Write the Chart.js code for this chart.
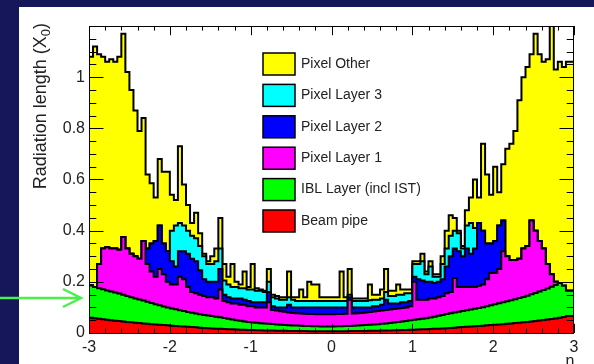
<!DOCTYPE html>
<html>
<head>
<meta charset="utf-8">
<script src="https://cdn.jsdelivr.net/npm/chart.js@4.4.1/dist/chart.umd.min.js"></script>
<style>
html, body { margin: 0; padding: 0; background: #16165a; }
#c { position: absolute; left: 0; top: 0; }
</style>
</head>
<body>
<canvas id="c" width="594" height="364"></canvas>
<script>
// eta bins: 120 bins of 0.05 from -3 to 3; each array holds the upper edge of that layer (stacked)
var etaMin = -3;
var binWidth = 0.05;

var beamPipe = [
  0.062,0.060,0.058,0.056,0.054,0.052,0.050,0.048,0.047,0.045,
  0.043,0.042,0.040,0.039,0.037,0.036,0.034,0.033,0.032,0.031,
  0.030,0.028,0.027,0.026,0.025,0.024,0.023,0.022,0.021,0.020,
  0.019,0.018,0.017,0.017,0.016,0.015,0.015,0.014,0.013,0.013,
  0.012,0.012,0.011,0.011,0.010,0.010,0.010,0.009,0.009,0.009,
  0.008,0.008,0.008,0.008,0.008,0.007,0.007,0.007,0.007,0.007,
  0.007,0.007,0.007,0.007,0.007,0.008,0.008,0.008,0.008,0.008,
  0.009,0.009,0.009,0.010,0.010,0.010,0.011,0.011,0.012,0.012,
  0.013,0.013,0.014,0.015,0.015,0.016,0.017,0.017,0.018,0.019,
  0.020,0.021,0.022,0.023,0.024,0.025,0.026,0.027,0.028,0.030,
  0.031,0.032,0.033,0.034,0.036,0.037,0.039,0.040,0.042,0.043,
  0.045,0.047,0.049,0.051,0.053,0.055,0.057,0.060,0.063,0.066
];
var iblLayer = [
  0.183,0.186,0.180,0.175,0.171,0.166,0.162,0.158,0.154,0.150,
  0.145,0.140,0.135,0.131,0.127,0.122,0.117,0.112,0.108,0.104,
  0.100,0.096,0.093,0.089,0.086,0.082,0.079,0.076,0.073,0.070,
  0.068,0.066,0.064,0.062,0.059,0.056,0.053,0.050,0.048,0.045,
  0.043,0.041,0.040,0.038,0.037,0.036,0.035,0.033,0.032,0.031,
  0.030,0.029,0.029,0.028,0.027,0.027,0.026,0.026,0.025,0.025,
  0.025,0.025,0.026,0.026,0.027,0.027,0.028,0.029,0.030,0.031,
  0.032,0.033,0.034,0.036,0.037,0.039,0.041,0.043,0.045,0.047,
  0.050,0.052,0.054,0.056,0.058,0.061,0.064,0.067,0.070,0.074,
  0.077,0.080,0.083,0.086,0.089,0.092,0.095,0.098,0.101,0.105,
  0.108,0.112,0.116,0.120,0.124,0.128,0.132,0.137,0.141,0.146,
  0.151,0.156,0.162,0.168,0.174,0.181,0.188,0.195,0.185,0.165
];
var pixelLayer1 = [
  0.183,0.186,0.180,0.270,0.330,0.335,0.330,0.330,0.325,0.375,
  0.330,0.310,0.300,0.290,0.360,0.270,0.240,0.220,0.250,0.230,
  0.200,0.190,0.190,0.220,0.210,0.180,0.160,0.155,0.150,0.145,
  0.140,0.140,0.135,0.170,0.125,0.120,0.115,0.115,0.110,0.110,
  0.105,0.105,0.100,0.100,0.100,0.120,0.090,0.088,0.085,0.083,
  0.080,0.078,0.077,0.076,0.075,0.074,0.074,0.073,0.073,0.073,
  0.073,0.073,0.074,0.074,0.075,0.130,0.076,0.077,0.078,0.080,
  0.082,0.084,0.086,0.088,0.090,0.092,0.094,0.096,0.098,0.100,
  0.105,0.200,0.130,0.130,0.130,0.135,0.135,0.140,0.145,0.155,
  0.160,0.215,0.180,0.180,0.180,0.180,0.180,0.185,0.190,0.210,
  0.235,0.235,0.250,0.320,0.300,0.285,0.285,0.290,0.330,0.340,
  0.440,0.400,0.360,0.330,0.270,0.230,0.200,0.195,0.185,0.165
];
var pixelLayer2 = [
  0.183,0.186,0.180,0.270,0.330,0.335,0.330,0.330,0.325,0.375,
  0.330,0.310,0.300,0.290,0.360,0.330,0.350,0.360,0.420,0.350,
  0.320,0.280,0.260,0.320,0.320,0.310,0.290,0.280,0.245,0.210,
  0.200,0.200,0.200,0.250,0.150,0.140,0.135,0.135,0.135,0.130,
  0.125,0.120,0.120,0.120,0.120,0.160,0.105,0.100,0.100,0.100,
  0.110,0.100,0.100,0.100,0.100,0.100,0.100,0.100,0.100,0.100,
  0.100,0.100,0.100,0.100,0.100,0.140,0.100,0.100,0.100,0.100,
  0.100,0.105,0.105,0.110,0.130,0.115,0.115,0.115,0.120,0.120,
  0.125,0.220,0.210,0.205,0.200,0.200,0.195,0.200,0.210,0.260,
  0.300,0.330,0.320,0.300,0.330,0.310,0.330,0.430,0.400,0.350,
  0.350,0.360,0.420,0.440,0.300,0.285,0.285,0.290,0.330,0.340,
  0.440,0.400,0.360,0.330,0.270,0.230,0.200,0.195,0.185,0.165
];
var pixelLayer3 = [
  0.183,0.186,0.180,0.270,0.330,0.335,0.330,0.330,0.325,0.375,
  0.330,0.310,0.300,0.290,0.360,0.330,0.350,0.360,0.420,0.350,
  0.320,0.400,0.420,0.430,0.420,0.400,0.380,0.370,0.340,0.300,
  0.270,0.270,0.280,0.330,0.205,0.190,0.180,0.180,0.175,0.175,
  0.170,0.170,0.165,0.165,0.160,0.200,0.140,0.135,0.130,0.130,
  0.140,0.130,0.125,0.125,0.125,0.125,0.125,0.125,0.125,0.125,
  0.125,0.125,0.125,0.125,0.125,0.150,0.125,0.125,0.125,0.125,
  0.128,0.130,0.130,0.135,0.160,0.145,0.145,0.150,0.150,0.155,
  0.155,0.270,0.270,0.280,0.230,0.260,0.220,0.220,0.270,0.330,
  0.380,0.400,0.390,0.330,0.420,0.430,0.410,0.430,0.400,0.350,
  0.350,0.360,0.420,0.440,0.300,0.285,0.285,0.290,0.330,0.340,
  0.440,0.400,0.360,0.330,0.270,0.230,0.200,0.195,0.185,0.165
];
var pixelOther = [
  1.06,1.08,1.12,1.09,1.08,1.06,1.07,1.06,1.08,1.17,
  1.02,0.95,0.87,0.79,0.84,0.62,0.585,0.53,0.68,0.63,
  0.63,0.54,0.52,0.73,0.58,0.50,0.43,0.47,0.39,0.31,
  0.28,0.30,0.33,0.45,0.27,0.22,0.27,0.20,0.19,0.24,
  0.18,0.27,0.175,0.17,0.165,0.25,0.15,0.145,0.14,0.14,
  0.24,0.14,0.14,0.17,0.14,0.20,0.19,0.19,0.14,0.14,
  0.14,0.14,0.14,0.24,0.14,0.25,0.135,0.135,0.135,0.135,
  0.19,0.15,0.15,0.17,0.25,0.165,0.165,0.19,0.17,0.17,
  0.17,0.28,0.28,0.31,0.24,0.28,0.23,0.23,0.30,0.40,
  0.46,0.45,0.40,0.34,0.48,0.53,0.60,0.53,0.74,0.62,
  0.54,0.65,0.55,0.66,0.72,0.74,0.79,0.91,1.00,1.04,
  1.09,1.17,1.09,1.06,1.07,1.21,1.03,1.06,1.04,1.06
];

var legendNames = ['Pixel Other', 'Pixel Layer 3', 'Pixel Layer 2', 'Pixel Layer 1', 'IBL Layer (incl IST)', 'Beam pipe'];
var legendColors = ['#ffff00', '#00ffff', '#0000ff', '#ff00ff', '#00ff00', '#ff0000'];
var xTickLabels = ['-3', '-2', '-1', '0', '1', '2', '3'];
var yTickLabels = ['0', '0.2', '0.4', '0.6', '0.8', '1'];

var fontFam = '"Liberation Sans", Arial, Helvetica, sans-serif';

function toPoints(arr) {
  var pts = arr.map(function (v, i) { return { x: etaMin + i * binWidth, y: v }; });
  pts.push({ x: etaMin + arr.length * binWidth, y: arr[arr.length - 1] });
  return pts;
}

function layer(name, arr, color) {
  return {
    label: name,
    data: toPoints(arr),
    backgroundColor: color,
    borderColor: '#000',
    borderWidth: 2,
    pointRadius: 0,
    stepped: 'after',
    fill: 'origin'
  };
}

// first dataset is painted last (on top)
var datasets = [
  layer('Beam pipe', beamPipe, legendColors[5]),
  layer('IBL Layer (incl IST)', iblLayer, legendColors[4]),
  layer('Pixel Layer 1', pixelLayer1, legendColors[3]),
  layer('Pixel Layer 2', pixelLayer2, legendColors[2]),
  layer('Pixel Layer 3', pixelLayer3, legendColors[1]),
  layer('Pixel Other', pixelOther, legendColors[0])
];

var panelBg = {
  id: 'panelBg',
  beforeDraw: function (chart) {
    var ctx = chart.ctx;
    ctx.save();
    ctx.fillStyle = '#16165a';
    ctx.fillRect(0, 0, chart.width, chart.height);
    ctx.fillStyle = '#ffffff';
    ctx.fillRect(19, 7, chart.width - 19, chart.height - 7);
    ctx.restore();
  }
};

var rootFrame = {
  id: 'rootFrame',
  afterDatasetsDraw: function (chart) {
    var ctx = chart.ctx, a = chart.chartArea;
    var xs = chart.scales.x, ys = chart.scales.y;
    ctx.save();
    ctx.strokeStyle = '#000';
    ctx.lineWidth = 1;
    ctx.beginPath();
    // y ticks, left and right, every 0.05
    for (var k = 0; k <= 24; k++) {
      var py = Math.round(ys.getPixelForValue(k * 0.05)) + 0.5;
      var len = (k % 4 === 0) ? 14.5 : 7.3;
      ctx.moveTo(a.left, py); ctx.lineTo(a.left + len, py);
      ctx.moveTo(a.right, py); ctx.lineTo(a.right - len, py);
    }
    // x ticks, bottom and top, every 0.2
    for (var j = 0; j <= 30; j++) {
      var px = Math.round(xs.getPixelForValue(-3 + j * 0.2)) + 0.5;
      var l2 = (j % 5 === 0) ? 9.2 : 4.6;
      ctx.moveTo(px, a.bottom); ctx.lineTo(px, a.bottom - l2);
      ctx.moveTo(px, a.top); ctx.lineTo(px, a.top + l2);
    }
    ctx.stroke();
    ctx.strokeRect(a.left + 0.5, a.top + 0.5, a.right - a.left - 1, a.bottom - a.top);

    // legend
    ctx.font = '14px ' + fontFam;
    ctx.textBaseline = 'middle';
    ctx.textAlign = 'left';
    for (var i = 0; i < legendNames.length; i++) {
      var by = 53 + i * 31.4;
      ctx.fillStyle = legendColors[i];
      ctx.fillRect(263, by, 32, 22);
      ctx.lineWidth = 1.5;
      ctx.strokeRect(263, by, 32, 22);
      ctx.fillStyle = '#222';
      ctx.fillText(legendNames[i], 301, by + 11);
    }

    // y axis title, right aligned to the top of the axis
    ctx.translate(46, 23);
    ctx.rotate(-Math.PI / 2);
    ctx.fillStyle = '#222';
    ctx.textBaseline = 'alphabetic';
    var big = '18px ' + fontFam, small = '13px ' + fontFam;
    ctx.font = big;
    var t1 = 'Radiation length (X';
    var w1 = ctx.measureText(t1).width;
    var w3 = ctx.measureText(')').width;
    ctx.font = small;
    var w2 = ctx.measureText('0').width;
    var x0 = -(w1 + w2 + w3);
    ctx.font = big;
    ctx.fillText(t1, x0, 0);
    ctx.font = small;
    ctx.fillText('0', x0 + w1, 4);
    ctx.font = big;
    ctx.fillText(')', x0 + w1 + w2, 0);
    ctx.restore();

    // x axis title
    ctx.save();
    ctx.fillStyle = '#222';
    ctx.font = '16px ' + fontFam;
    ctx.textAlign = 'center';
    ctx.textBaseline = 'top';
    ctx.fillText('\u03b7', 570, 354);
    ctx.restore();
  },
  afterDraw: function (chart) {
    // green arrow pointing at the IBL layer
    var ctx = chart.ctx;
    ctx.save();
    ctx.strokeStyle = '#4cf04c';
    ctx.lineWidth = 2.5;
    ctx.beginPath();
    ctx.moveTo(0, 298); ctx.lineTo(81, 298);
    ctx.moveTo(63, 289); ctx.lineTo(81, 298); ctx.lineTo(63, 307);
    ctx.stroke();
    ctx.restore();
  }
};

new Chart(document.getElementById('c').getContext('2d'), {
  type: 'line',
  data: { datasets: datasets },
  options: {
    responsive: false,
    animation: false,
    layout: { padding: { left: 0, right: 20, top: 26, bottom: 0 } },
    plugins: { legend: { display: false }, tooltip: { enabled: false } },
    scales: {
      x: {
        type: 'linear', min: -3, max: 3,
        grid: { display: false, drawTicks: false },
        border: { display: false },
        ticks: {
          stepSize: 1, maxRotation: 0, autoSkip: false, padding: 5, color: '#222',
          font: { size: 16, family: fontFam },
          callback: function (v) { return xTickLabels[Math.round(v + 3)]; }
        },
        afterFit: function (s) { s.height = 31; }
      },
      y: {
        min: 0, max: 1.2,
        grid: { display: false, drawTicks: false },
        border: { display: false },
        ticks: {
          stepSize: 0.2, padding: 4, color: '#222',
          font: { size: 16, family: fontFam },
          callback: function (v) { var t = yTickLabels[Math.round(v / 0.2)]; return t === undefined ? '' : t; }
        },
        afterFit: function (s) { s.width = 89; }
      }
    }
  },
  plugins: [panelBg, rootFrame]
});
</script>
</body>
</html>
